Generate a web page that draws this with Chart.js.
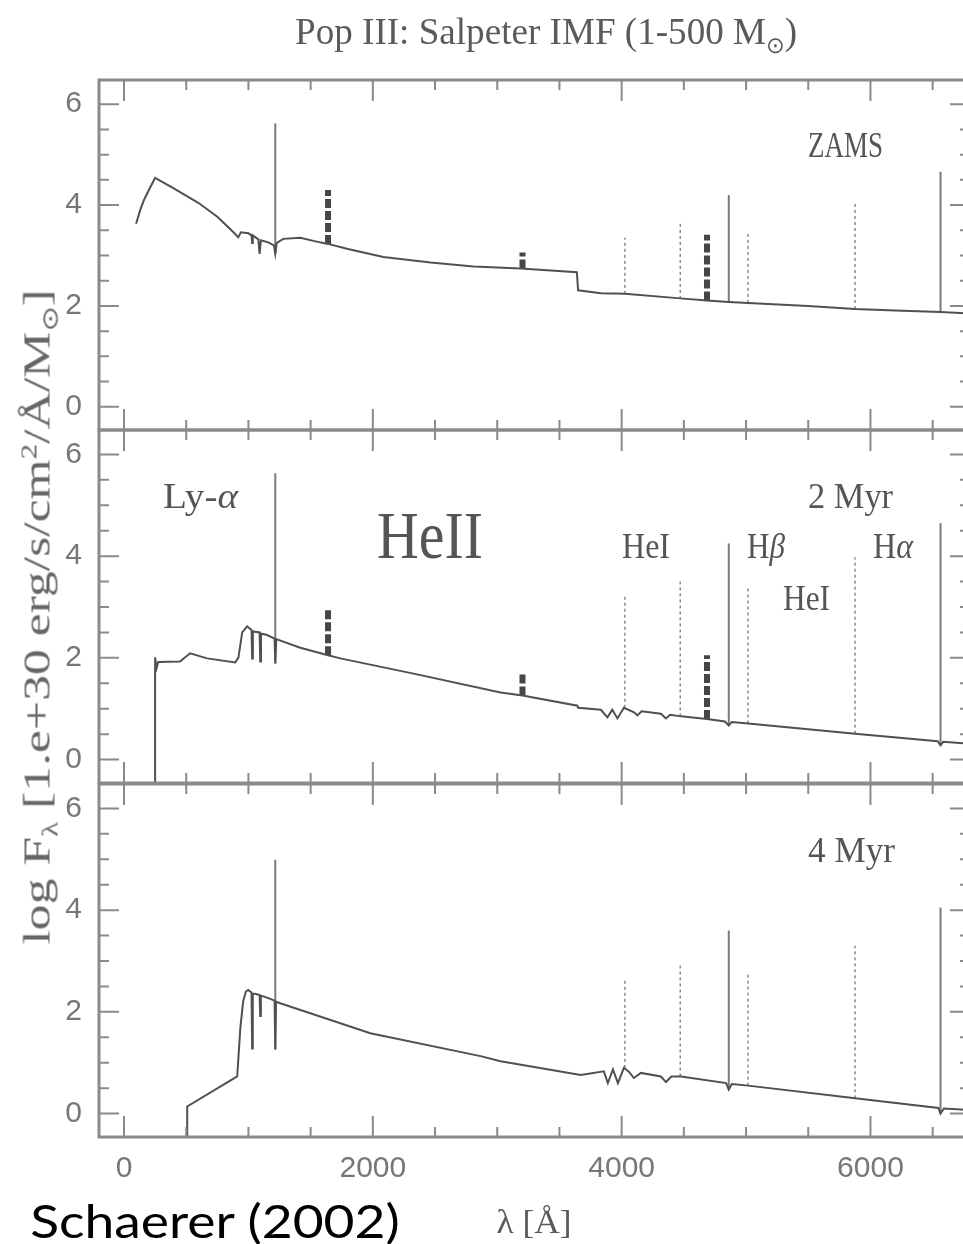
<!DOCTYPE html>
<html>
<head>
<meta charset="utf-8">
<title>Pop III: Salpeter IMF spectra</title>
<script src="https://cdn.jsdelivr.net/npm/chart.js"></script>
<style>
  html, body { margin: 0; padding: 0; background: #fff; }
  #page { position: relative; width: 963px; height: 1244px; overflow: hidden; }
  #page canvas { position: absolute; left: 0; top: 0; }
  .txt { position: absolute; left: 0; top: 0; white-space: nowrap; line-height: 1; color: #5a5a5a;
         font-family: "Liberation Serif", serif; }
  .txt sub, .txt sup { font-size: 0.6em; line-height: 0; }
  #credit { color: #000; font-family: "Comic Sans MS", "Lato", sans-serif; }
</style>
</head>
<body>
<div id="page">
  <canvas id="zams" width="980" height="1244"></canvas>
  <canvas id="myr2" width="980" height="1244"></canvas>
  <canvas id="myr4" width="980" height="1244"></canvas>
  <div class="txt" data-cx="546" data-cy="31" data-w="502" style="font-size:38px">Pop III: Salpeter IMF (1-500 M<sub>⊙</sub>)</div>
  <div class="txt" data-cx="37" data-cy="617" data-w="655" data-rot="1" style="font-size:37px;color:#666">log F<sub>λ</sub> [1.e+30 erg/s/cm<sup>2</sup>/Å/M<sub>⊙</sub>]</div>
  <div class="txt" data-cx="534" data-cy="1222" data-w="75" style="font-size:34px">λ [Å]</div>
  <div class="txt" id="credit" data-cx="215" data-cy="1221" data-w="370" style="font-size:46px">Schaerer (2002)</div>
</div>
<script>
// emission lines: Ly-a, HeII 1640, HeII 3203, HeI 4026, HeI 4471, HeII 4686, Hb, HeI 5016, HeI 5876, Ha
const lineWave = [1216, 1640, 3203, 4026, 4471, 4686, 4861, 5016, 5876, 6563];
const lineKind = ['H', 'HeII', 'HeII', 'HeI', 'HeI', 'HeII', 'H', 'HeI', 'HeI', 'H'];

const xTickLabels = [0, 2000, 4000, 6000];
const yTickLabels = [0, 2, 4, 6];

// ZAMS
const zamsWave = [97, 130, 160, 200, 250, 400, 600, 750, 880, 918, 940, 1000, 1025, 1030, 1035, 1080, 1090, 1100,
  1160, 1205, 1216, 1228, 1280, 1417, 1522, 1640, 1800, 2085, 2464, 2810, 3188, 3640, 3650, 3833, 4026, 4471,
  4686, 4861, 5016, 5500, 5876, 6200, 6563, 6800];
const zamsFlux = [3.63, 3.90, 4.10, 4.30, 4.54, 4.33, 4.04, 3.77, 3.46, 3.36, 3.46, 3.44, 3.40, 3.25, 3.40, 3.32, 3.03, 3.30,
  3.26, 3.20, 3.03, 3.25, 3.33, 3.35, 3.29, 3.23, 3.13, 2.97, 2.86, 2.78, 2.74, 2.67, 2.31, 2.25, 2.24, 2.15,
  2.11, 2.08, 2.06, 2.00, 1.94, 1.91, 1.88, 1.85];
const zamsLineTop  = [5.62, 4.30, 3.06, 3.35, 3.66, 3.41, 4.20, 3.46, 4.07, 4.66];
const zamsLineBase = [3.03, 3.23, 2.74, 2.24, 2.14, 2.11, 2.08, 2.06, 1.94, 1.88];

// 2 Myr
const myr2Wave = [250, 250, 262, 275, 450, 531, 668, 894, 920, 950, 990, 1025, 1030, 1036, 1090, 1095, 1101, 1150,
  1210, 1216, 1224, 1417, 1640, 1739, 2327, 3027, 3203, 3645, 3650, 3833, 3886, 3925, 3966, 4018, 4100, 4127,
  4160, 4316, 4356, 4390, 4477, 4686, 4830, 4861, 4885, 5016, 5877, 6540, 6563, 6585, 6800];
const myr2Flux = [-0.5, 2.01, 1.80, 1.92, 1.93, 2.09, 1.99, 1.91, 2.01, 2.50, 2.62, 2.55, 1.99, 2.52, 2.50, 1.93, 2.48, 2.45,
  2.38, 1.89, 2.37, 2.20, 2.05, 1.99, 1.69, 1.32, 1.26, 1.06, 1.02, 0.98, 0.83, 0.98, 0.81, 1.02, 0.93, 0.87,
  0.95, 0.90, 0.81, 0.88, 0.85, 0.80, 0.75, 0.67, 0.74, 0.71, 0.51, 0.36, 0.28, 0.35, 0.31];
const myr2LineTop  = [5.63, 2.99, 1.69, 3.26, 3.52, 2.05, 4.25, 3.39, 3.98, 4.65];
const myr2LineBase = [1.89, 2.05, 1.26, 1.02, 0.85, 0.80, 0.67, 0.71, 0.51, 0.28];

// 4 Myr
const myr4Wave = [508, 508, 910, 935, 958, 980, 998, 1025, 1030, 1035, 1060, 1090, 1095, 1100, 1160, 1210, 1216, 1222,
  1256, 1980, 2866, 3027, 3671, 3857, 3889, 3930, 3970, 4018, 4060, 4098, 4155, 4316, 4356, 4400, 4477,
  4840, 4861, 4885, 5016, 5877, 6546, 6563, 6590, 6800];
const myr4Flux = [-0.5, 0.14, 0.73, 1.68, 2.21, 2.40, 2.43, 2.38, 1.28, 2.36, 2.35, 2.33, 1.92, 2.32, 2.27, 2.22, 1.26, 2.20,
  2.17, 1.58, 1.13, 1.03, 0.76, 0.83, 0.60, 0.87, 0.60, 0.90, 0.82, 0.70, 0.80, 0.73, 0.62, 0.73, 0.73,
  0.60, 0.47, 0.58, 0.55, 0.30, 0.11, 0.00, 0.10, 0.07];
const myr4LineTop  = [4.99, null, null, 2.61, 2.94, null, 3.60, 2.77, 3.30, 4.05];
const myr4LineBase = [1.26, null, null, 0.90, 0.73, null, 0.47, 0.55, 0.30, 0.00];

const lineStyle = {
  H:    { borderColor: '#7a7a7a', borderWidth: 2,   borderDash: [] },
  HeI:  { borderColor: '#8a8a8a', borderWidth: 1.5, borderDash: [3, 3] },
  HeII: { borderColor: '#464646', borderWidth: 6,   borderDash: [9, 3] }
};

const tickFont = { family: '"Liberation Sans", Arial, sans-serif', size: 30 };

// ticks every `step` from 0 up to the axis maximum
function stepTicks(step) {
  return scale => {
    const ticks = [];
    for (let v = 0; v <= scale.max + 1e-9; v += step) ticks.push({ value: Math.round(v * 100) / 100 });
    scale.ticks = ticks;
  };
}

// frame with inward ticks on all four sides, plus the in-panel labels
const panelDecor = {
  id: 'panelDecor',
  afterDatasetsDraw(chart, args, opts) {
    const { ctx, chartArea: a, scales: { x, y } } = chart;
    ctx.save();
    ctx.strokeStyle = '#8a8a8a';
    ctx.lineWidth = 3;
    ctx.strokeRect(a.left, a.top, a.right - a.left, a.bottom - a.top);
    ctx.lineWidth = 2;
    ctx.beginPath();
    x.ticks.forEach(t => {
      const px = x.getPixelForValue(t.value);
      const len = t.value % 2000 === 0 ? 21 : 10;
      ctx.moveTo(px, a.top); ctx.lineTo(px, a.top + len);
      ctx.moveTo(px, a.bottom); ctx.lineTo(px, a.bottom - len);
    });
    y.ticks.forEach(t => {
      const py = y.getPixelForValue(t.value);
      const len = Math.abs(t.value % 2) < 1e-6 ? 20 : 10;
      ctx.moveTo(a.left, py); ctx.lineTo(a.left + len, py);
      ctx.moveTo(a.right, py); ctx.lineTo(a.right - len, py);
    });
    ctx.stroke();

    // labels are lists of [text, style] runs, squeezed to the given width
    ctx.fillStyle = '#555';
    ctx.textAlign = 'left';
    ctx.textBaseline = 'alphabetic';
    (opts.labels || []).forEach(l => {
      const fontOf = style => style + l.size + 'px "Liberation Serif", serif';
      let natural = 0;
      l.runs.forEach(([s, style]) => { ctx.font = fontOf(style); natural += ctx.measureText(s).width; });
      const k = l.width / natural;
      ctx.save();
      ctx.translate(x.getPixelForValue(l.x) - l.width / 2, y.getPixelForValue(l.y));
      ctx.scale(k, 1);
      let cx = 0;
      l.runs.forEach(([s, style]) => {
        ctx.font = fontOf(style);
        ctx.fillText(s, cx, 0);
        cx += ctx.measureText(s).width;
      });
      ctx.restore();
    });
    ctx.restore();
  }
};

function buildPanel(id, wave, flux, top, base, geom, labels) {
  const datasets = [{
    data: wave.map((w, i) => ({ x: w, y: flux[i] })),
    borderColor: '#505050',
    borderWidth: 2,
    pointRadius: 0,
    tension: 0
  }];
  lineWave.forEach((w, i) => {
    if (top[i] === null) return;
    datasets.push(Object.assign({
      data: [{ x: w, y: base[i] }, { x: w, y: top[i] }],
      pointRadius: 0
    }, lineStyle[lineKind[i]]));
  });

  return new Chart(document.getElementById(id), {
    type: 'line',
    data: { datasets },
    options: {
      responsive: false,
      animation: false,
      events: [],
      layout: { padding: { top: geom.top, bottom: geom.bottom, left: 0, right: 10 } },
      plugins: { legend: { display: false }, tooltip: { enabled: false }, panelDecor: { labels } },
      scales: {
        x: {
          type: 'linear',
          min: -201,
          max: 6800,
          display: geom.showX,
          grid: { display: false, drawTicks: false },
          border: { display: false },
          afterBuildTicks: stepTicks(500),
          ticks: {
            autoSkip: false,
            maxRotation: 0,
            padding: 14,
            color: '#777',
            font: tickFont,
            callback: v => xTickLabels.includes(v) ? String(v) : ''
          },
          afterFit: s => { s.height = geom.xHeight || 0; }
        },
        y: {
          type: 'linear',
          min: -0.46,
          max: 6.48,
          grid: { display: false, drawTicks: false },
          border: { display: false },
          afterBuildTicks: stepTicks(0.5),
          ticks: {
            autoSkip: false,
            padding: 17,
            color: '#777',
            font: tickFont,
            callback: v => yTickLabels.includes(v) ? String(v) : ''
          },
          afterFit: s => { s.width = 99; }
        }
      }
    },
    plugins: [panelDecor]
  });
}

buildPanel('zams', zamsWave, zamsFlux, zamsLineTop, zamsLineBase,
  { top: 80, bottom: 814, showX: false },
  [{ runs: [['ZAMS', '']], x: 5800, y: 4.95, size: 36, width: 75 }]);

buildPanel('myr2', myr2Wave, myr2Flux, myr2LineTop, myr2LineBase,
  { top: 430, bottom: 461, showX: false },
  [
    { runs: [['Ly-', ''], ['α', 'italic ']], x: 615, y: 4.95, size: 35, width: 75 },
    { runs: [['HeII', '']], x: 2460, y: 3.96, size: 68, width: 106 },
    { runs: [['2 Myr', '']], x: 5840, y: 4.95, size: 36, width: 85 },
    { runs: [['HeI', '']], x: 4196, y: 3.96, size: 35, width: 48 },
    { runs: [['H', ''], ['β', 'italic ']], x: 5161, y: 3.96, size: 35, width: 38 },
    { runs: [['HeI', '']], x: 5486, y: 2.94, size: 35, width: 47 },
    { runs: [['H', ''], ['α', 'italic ']], x: 6182, y: 3.96, size: 35, width: 40 }
  ]);

buildPanel('myr4', myr4Wave, myr4Flux, myr4LineTop, myr4LineBase,
  { top: 784, bottom: 0, showX: true, xHeight: 107 },
  [{ runs: [['4 Myr', '']], x: 5848, y: 4.95, size: 36, width: 87 }]);

// condensed titles, centred on given points
function placeText() {
  document.querySelectorAll('.txt').forEach(el => {
    const k = el.dataset.w / el.offsetWidth;
    el.style.left = el.dataset.cx + 'px';
    el.style.top = el.dataset.cy + 'px';
    el.style.transform = 'translate(-50%, -50%)' + (el.dataset.rot ? ' rotate(-90deg)' : '') + ' scaleX(' + k + ')';
  });
}
placeText();
if (document.fonts) document.fonts.ready.then(placeText);
</script>
</body>
</html>
